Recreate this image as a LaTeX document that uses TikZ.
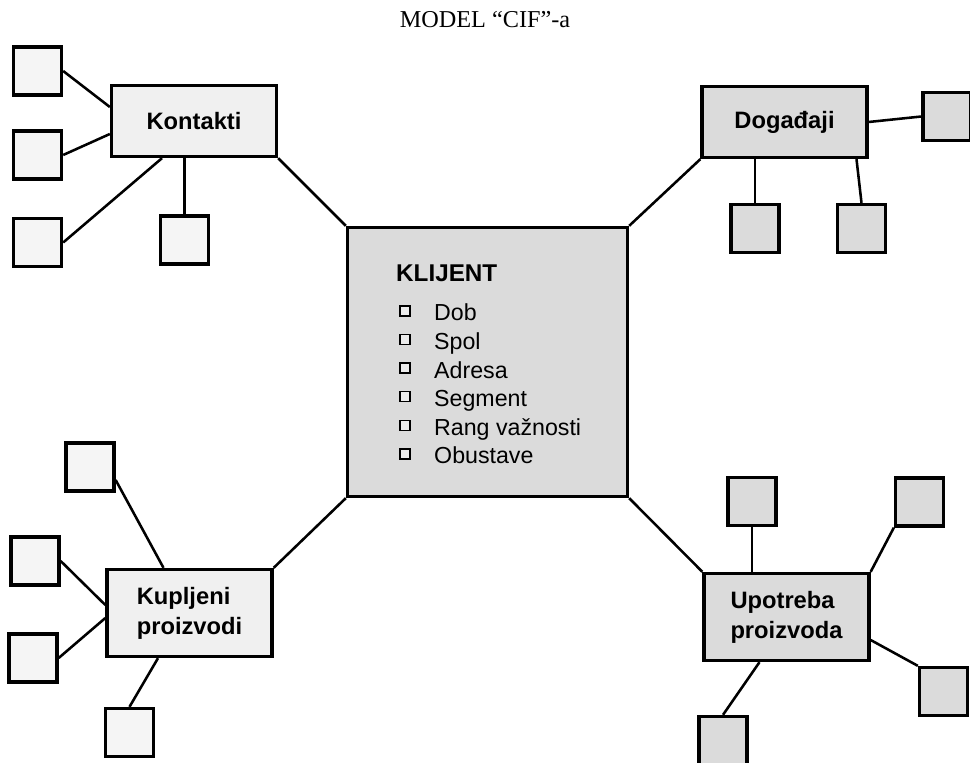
\documentclass[tikz,border=0pt]{standalone}
\usepackage{fontspec}
\setmainfont{Liberation Serif}
\newfontfamily\helv{Liberation Sans}
\usepackage{xcolor}
\usepackage{tikz}
\usetikzlibrary{positioning, calc}

\tikzset{
  okvir/.style={draw, line width=1.9pt},
  veza/.style={line width=1.45pt},
  grupa/.style={okvir, minimum width=3.3cm, minimum height=1.42cm, inner sep=0,
    font=\helv\bfseries\fontsize{13.5}{17}\selectfont, align=left},
  svijetla/.style={fill=gray!12},
  tamna/.style={fill=gray!28},
  kvadrat/.style={okvir, minimum size=0.96cm, inner sep=0},
  oznaka/.style={draw, line width=0.8pt, fill=gray!15, minimum size=0.2cm, inner sep=0},
  stavka/.style={anchor=base west, inner sep=0, font=\helv\fontsize{13.2}{16}\selectfont}
}

\begin{document}
\begin{tikzpicture}[x=0.02cm, y=-0.02cm]
  \useasboundingbox (0,0) rectangle (970,763);

  \node[font=\fontsize{13.8}{16}\selectfont] (naslov) at (485,20) {MODEL “CIF”-a};

  % Klijent
  \node[okvir, tamna, minimum width=5.6cm, minimum height=5.38cm] (klijent) at (487.5,362) {};
  \node[stavka, font=\helv\bfseries\fontsize{13.8}{16}\selectfont] (kl) at ($(klijent.north west)+(50,56)$) {KLIJENT};
  \foreach \i/\txt in {0/Dob, 1/Spol, 2/Adresa, 3/Segment, 4/Rang važnosti, 5/Obustave} {
    \node[oznaka] (b\i) at ($(klijent.north west)+(59,{85+28.6*\i})$) {};
    \node[stavka] (s\i) at ($(klijent.north west)+(88,{95+28.6*\i})$) {\txt};
  }

  % Grupe
  \node[grupa, svijetla] (kontakti) at (194,121) {Kontakti};
  \node[grupa, tamna] (dogadjaji) at (784.5,122) {Događaji};
  \node[grupa, svijetla, minimum height=1.74cm] (kupljeni) at (189.5,613) {Kupljeni\\proizvodi};
  \node[grupa, tamna, minimum height=1.74cm] (upotreba) at (786.5,617) {Upotreba\\proizvoda};

  % Mali kvadrati
  \foreach \n/\x/\y in {k1/37.5/71, k2/37.5/155, k3/37.5/242.5, k4/184.5/240,
                        p1/90/467, p2/35/561, p3/33/658, p4/129.5/732.5}
    \node[kvadrat, fill=gray!8] (\n) at (\x,\y) {};
  \foreach \n/\x/\y in {d1/947/116.5, d2/755/228.5, d3/861.5/228.5,
                        u1/752/501.5, u2/919.5/502, u3/943.5/691.5, u4/723/740.5}
    \node[kvadrat, tamna] (\n) at (\x,\y) {};

  % Veze s klijentom
  \draw[veza] (kontakti.south east) -- (klijent.north west);
  \draw[veza] (dogadjaji.south west) -- (klijent.north east);
  \draw[veza] (kupljeni.north east) -- (klijent.south west);
  \draw[veza] (upotreba.north west) -- (klijent.south east);

  % Kontakti
  \draw[veza] (k1.east) -- ($(kontakti.west)+(0,-14)$);
  \draw[veza] (k2.east) -- ($(kontakti.west)+(0,13)$);
  \draw[veza] (k3.east) -- ($(kontakti.south)+(-32,0)$);
  \draw[veza] (k4.north) -- (k4.north |- kontakti.south);

  % Dogadjaji
  \draw[veza] (dogadjaji.east) -- (d1.west);
  \draw[veza] (d2.north) -- (d2.north |- dogadjaji.south);
  \draw[veza] (d3.north) -- ($(dogadjaji.south)+(72,0)$);

  % Kupljeni proizvodi
  \draw[veza] ($(p1.east)+(0,13)$) -- ($(kupljeni.north)+(-26,0)$);
  \draw[veza] (p2.east) -- ($(kupljeni.west)+(0,-8)$);
  \draw[veza] (p3.east) -- ($(kupljeni.west)+(0,5)$);
  \draw[veza] (p4.north) -- ($(kupljeni.south)+(-31.5,0)$);

  % Upotreba proizvoda
  \draw[veza] (u1.south) -- (u1.south |- upotreba.north);
  \draw[veza] (u2.south west) -- (upotreba.north east);
  \draw[veza] (u3.north west) -- ($(upotreba.east)+(0,23)$);
  \draw[veza] (u4.north) -- ($(upotreba.south)+(-27,0)$);
\end{tikzpicture}
\end{document}
